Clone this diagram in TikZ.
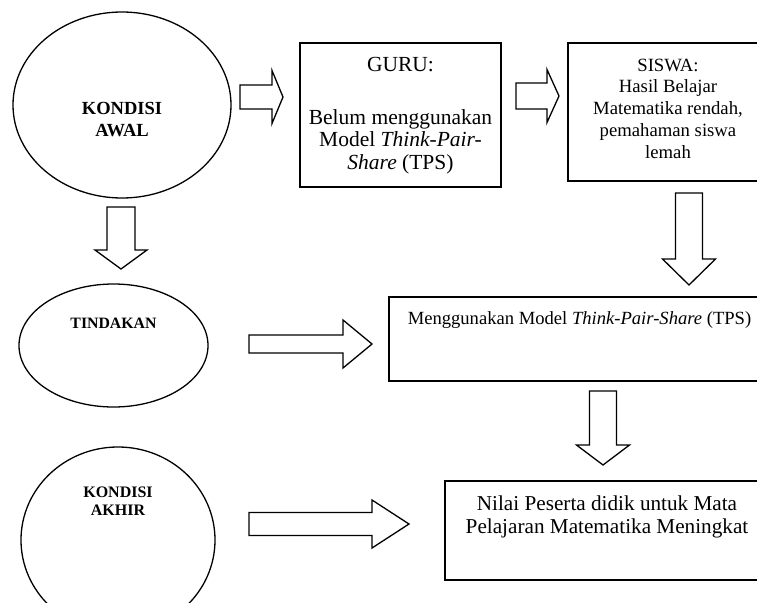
\documentclass[tikz,border=0pt]{standalone}
\usepackage{fontspec}
\setmainfont{Liberation Serif}
\usetikzlibrary{shapes.geometric}
\newcommand\hblock[6]{% x1 x2 xt yc shaft-half head-half
  \draw[blk] ({#1},{#4-#5}) -- ({#2},{#4-#5}) -- ({#2},{#4-#6}) -- ({#3},{#4})
    -- ({#2},{#4+#6}) -- ({#2},{#4+#5}) -- ({#1},{#4+#5}) -- cycle;}
\newcommand\vblock[6]{% y1 y2 yt xc shaft-half head-half
  \draw[blk] ({#4-#5},{#1}) -- ({#4-#5},{#2}) -- ({#4-#6},{#2}) -- ({#4},{#3})
    -- ({#4+#6},{#2}) -- ({#4+#5},{#2}) -- ({#4+#5},{#1}) -- cycle;}
\begin{document}
\begin{tikzpicture}[x=1pt,y=-1pt,
  oval/.style={draw,ellipse,line width=1.3pt,inner sep=0pt},
  boxr/.style={draw,rectangle,line width=1.6pt,inner sep=0pt},
  blk/.style={draw,line width=1.3pt,line join=miter,fill=white},
  txt/.style={inner sep=0pt,align=center}]
\clip (0,0) rectangle (757,602);
\fill[white] (0,0) rectangle (757,602);
% ellipses
\node[oval,minimum width=218pt,minimum height=186pt] (awal) at (122,105) {};
\node[oval,minimum width=189pt,minimum height=123pt] (tind) at (113.5,345.5) {};
\node[oval,minimum width=194pt,minimum height=186pt] (akhir) at (118,540) {};
\node[txt,font=\fontsize{18.5}{22}\selectfont\bfseries] (awalt) at (122,120) {KONDISI\\AWAL};
\node[txt,font=\fontsize{15.8}{18}\selectfont\bfseries] (tindt) at (113.5,323) {TINDAKAN};
\node[txt,font=\fontsize{16}{18}\selectfont\bfseries] (akhirt) at (118,501) {KONDISI\\AKHIR};
% boxes
\node[boxr,minimum width=201pt,minimum height=144pt] (guru) at (400.5,115) {};
\node[boxr,minimum width=201pt,minimum height=138pt] (siswa) at (668.5,112) {};
\node[boxr,minimum width=381pt,minimum height=84pt] (meng) at (579.5,339) {};
\node[boxr,minimum width=324pt,minimum height=99pt] (nilai) at (607,530.5) {};
\node[txt,font=\fontsize{21.5}{22.5}\selectfont] (gurut) at (400.5,65) {GURU:};
\node[txt,font=\fontsize{21.5}{22.5}\selectfont] (gurub) at (400.5,141.5) {Belum menggunakan\\Model \textit{Think-Pair-}\\\textit{Share} (TPS)};
\node[txt,font=\fontsize{18.7}{21.8}\selectfont] (siswat) at (668,108.5) {SISWA:\\Hasil Belajar\\Matematika rendah,\\pemahaman siswa\\lemah};
\node[txt,font=\fontsize{18.6}{21}\selectfont] (mengt) at (579.5,320) {Menggunakan Model \textit{Think-Pair-Share} (TPS)};
\node[txt,font=\fontsize{21.2}{23}\selectfont] (nilait) at (607,516.5) {Nilai Peserta didik untuk Mata\\Pelajaran Matematika Meningkat};
% block arrows
\hblock{240}{272}{283}{97}{12}{26.5}
\hblock{516}{547}{559}{96}{13}{26.5}
\hblock{249}{343}{372}{344}{9}{24}
\hblock{249}{372}{409}{524}{11.5}{24}
\vblock{207}{250}{269}{121}{14}{26}
\vblock{193}{259}{285}{689}{13.5}{26.5}
\vblock{391}{445}{465}{603}{13.5}{26.5}
\end{tikzpicture}
\end{document}
